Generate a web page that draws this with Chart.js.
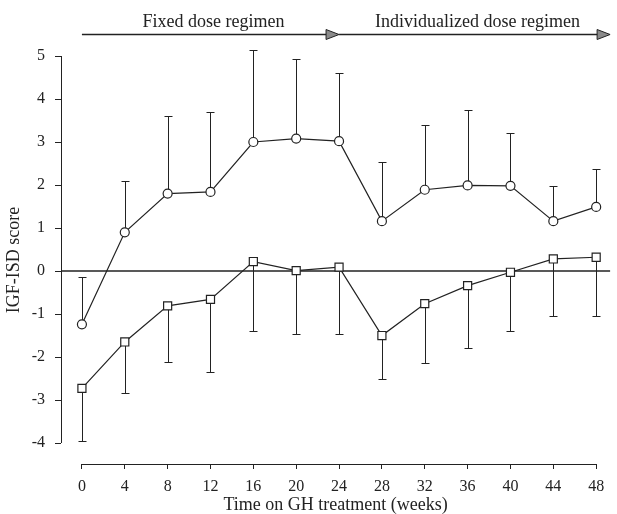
<!DOCTYPE html>
<html>
<head>
<meta charset="utf-8">
<script src="https://cdn.jsdelivr.net/npm/chart.js@4/dist/chart.umd.min.js"></script>
<style>
  html, body { margin: 0; padding: 0; background: #fff; }
  #wrap { width: 617px; height: 514px; }
</style>
</head>
<body>
<div id="wrap"><canvas id="igfChart" width="617" height="514"></canvas></div>
<script>
// weeks on GH treatment
const weeks = [0, 4, 8, 12, 16, 20, 24, 28, 32, 36, 40, 44, 48];
const yTickValues = [-4, -3, -2, -1, 0, 1, 2, 3, 4, 5];

// circles: mean with upper error bar end
const circleMean  = [-1.24, 0.9, 1.8, 1.84, 3.0, 3.08, 3.02, 1.16, 1.89, 1.99, 1.98, 1.16, 1.49];
const circleUpper = [-0.15, 2.1, 3.61, 3.7, 5.14, 4.92, 4.61, 2.53, 3.39, 3.74, 3.21, 1.98, 2.37];

// squares: mean with lower error bar end
const squareMean  = [-2.73, -1.65, -0.81, -0.66, 0.22, 0.01, 0.09, -1.5, -0.76, -0.34, -0.03, 0.28, 0.32];
const squareLower = [-3.96, -2.83, -2.11, -2.36, -1.4, -1.47, -1.46, -2.51, -2.13, -1.79, -1.39, -1.04, -1.04];

// treatment phases (weeks)
const phaseLabels = ['Fixed dose regimen', 'Individualized dose regimen'];
const phaseStart = [0, 24];
const phaseEnd = [24, null]; // null = runs to the right edge

const ink = '#222';
const serif = "'Liberation Serif', 'DejaVu Serif', serif";

function toPoints(values) {
    return weeks.map((w, i) => ({ x: w, y: values[i] }));
}

const decorations = {
    id: 'decorations',
    beforeDatasetsDraw(chart) {
        const { ctx, chartArea, scales: { x, y } } = chart;
        ctx.save();
        ctx.strokeStyle = ink;
        ctx.lineWidth = 1;

        // detached axis lines
        ctx.beginPath();
        ctx.moveTo(chartArea.left + 0.5, y.getPixelForValue(5));
        ctx.lineTo(chartArea.left + 0.5, y.getPixelForValue(-4));
        ctx.moveTo(x.getPixelForValue(0), chartArea.bottom + 0.5);
        ctx.lineTo(x.getPixelForValue(48), chartArea.bottom + 0.5);
        ctx.stroke();

        // zero line
        ctx.lineWidth = 1.3;
        const y0 = y.getPixelForValue(0);
        ctx.beginPath();
        ctx.moveTo(chartArea.left, y0);
        ctx.lineTo(chartArea.right, y0);
        ctx.stroke();

        // error bars
        ctx.lineWidth = 1;
        const cap = 4;
        const bar = (w, from, to) => {
            const px = Math.round(x.getPixelForValue(w)) + 0.5;
            const a = y.getPixelForValue(from);
            const b = Math.round(y.getPixelForValue(to)) + 0.5;
            ctx.beginPath();
            ctx.moveTo(px, a);
            ctx.lineTo(px, b);
            ctx.moveTo(px - cap, b);
            ctx.lineTo(px + cap, b);
            ctx.stroke();
        };
        weeks.forEach((w, i) => {
            bar(w, circleMean[i], circleUpper[i]);
            bar(w, squareMean[i], squareLower[i]);
        });

        // phase arrows and labels
        const ay = 34.5;
        ctx.font = '18px ' + serif;
        ctx.textAlign = 'center';
        ctx.textBaseline = 'alphabetic';
        phaseLabels.forEach((label, i) => {
            const x1 = x.getPixelForValue(phaseStart[i]);
            const x2 = phaseEnd[i] === null ? chartArea.right : x.getPixelForValue(phaseEnd[i]);
            ctx.strokeStyle = ink;
            ctx.lineWidth = 1.5;
            ctx.beginPath();
            ctx.moveTo(x1, ay);
            ctx.lineTo(x2 - 10, ay);
            ctx.stroke();
            ctx.beginPath();
            ctx.moveTo(x2, ay);
            ctx.lineTo(x2 - 13, ay - 5);
            ctx.lineTo(x2 - 13, ay + 5);
            ctx.closePath();
            ctx.fillStyle = '#8a8a8a';
            ctx.fill();
            ctx.lineWidth = 1;
            ctx.stroke();
            ctx.fillStyle = ink;
            ctx.fillText(label, (x1 + x2) / 2 + 3, 27);
        });

        ctx.restore();
    }
};

const ctx = document.getElementById('igfChart').getContext('2d');
const igfChart = new Chart(ctx, {
    type: 'line',
    data: {
        datasets: [
            {
                label: 'circles',
                data: toPoints(circleMean),
                borderColor: ink,
                borderWidth: 1.2,
                pointStyle: 'circle',
                pointRadius: 4.5,
                pointBorderWidth: 1.2,
                pointBackgroundColor: '#fff',
                pointBorderColor: ink,
                tension: 0,
                fill: false
            },
            {
                label: 'squares',
                data: toPoints(squareMean),
                borderColor: ink,
                borderWidth: 1.2,
                pointStyle: 'rect',
                pointRadius: 5.7,
                pointBorderWidth: 1.2,
                pointBackgroundColor: '#fff',
                pointBorderColor: ink,
                tension: 0,
                fill: false
            }
        ]
    },
    options: {
        responsive: false,
        animation: false,
        layout: { padding: { top: 56, right: 5, left: 0, bottom: 0 } },
        plugins: {
            legend: { display: false },
            tooltip: { enabled: false }
        },
        scales: {
            x: {
                type: 'linear',
                min: -1.953,
                max: 49.3,
                afterBuildTicks: (scale) => { scale.ticks = weeks.map(v => ({ value: v })); },
                afterFit: (scale) => { scale.height = 50; },
                border: { display: false },
                grid: { drawOnChartArea: false, drawTicks: true, tickLength: 5, color: ink },
                ticks: {
                    autoSkip: false,
                    maxRotation: 0,
                    padding: 8,
                    color: ink,
                    font: { family: serif, size: 16 }
                },
                title: {
                    display: true,
                    text: 'Time on GH treatment (weeks)',
                    color: ink,
                    padding: { top: 0, bottom: 0 },
                    font: { family: serif, size: 18, lineHeight: 1 }
                }
            },
            y: {
                min: -4.488,
                max: 5,
                afterBuildTicks: (scale) => { scale.ticks = yTickValues.map(v => ({ value: v })); },
                afterFit: (scale) => { scale.width = 61; },
                border: { display: false },
                grid: { drawOnChartArea: false, drawTicks: true, tickLength: 6, color: ink },
                ticks: {
                    padding: 10,
                    color: ink,
                    font: { family: serif, size: 16 }
                },
                title: {
                    display: true,
                    text: 'IGF-ISD score',
                    color: ink,
                    padding: { top: 5, bottom: 0 },
                    font: { family: serif, size: 18, lineHeight: 1 }
                }
            }
        }
    },
    plugins: [decorations]
});
</script>
</body>
</html>
